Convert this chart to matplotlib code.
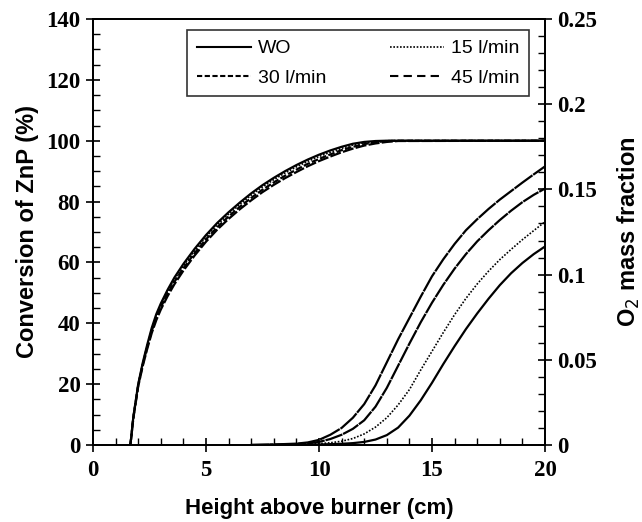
import numpy as np
import matplotlib
matplotlib.use("Agg")
import matplotlib.pyplot as plt
from matplotlib.lines import Line2D
from matplotlib.font_manager import FontProperties

# Conversion of ZnP along the flame (left axis)
h_conv = [1.65, 1.7, 1.75, 1.8, 1.9, 2.0, 2.2, 2.4, 2.6, 2.8, 3.0, 3.3, 3.6, 4.0, 4.5,
          5.0, 5.5, 6.0, 6.5, 7.0, 7.5, 8.0, 8.5, 9.0, 9.5, 10, 10.5, 11, 11.5, 12,
          12.5, 13, 13.5, 20]
conv_wo = [0, 3, 7, 10, 15, 20, 27, 33, 38.5, 43, 46.5, 51, 55, 59.5, 64.5, 69, 73, 76.5,
           79.7, 82.7, 85.4, 87.8, 90, 92, 93.8, 95.4, 96.8, 98, 99, 99.6, 99.9, 100, 100, 100]
conv_15 = [0, 3, 7, 10, 15, 20, 26.8, 32.7, 38.1, 42.5, 46, 50.4, 54.4, 58.9, 63.9, 68.4,
           72.4, 75.9, 79.1, 82.1, 84.8, 87.2, 89.4, 91.4, 93.2, 94.8, 96.2, 97.5, 98.6,
           99.3, 99.7, 100, 100, 100]
conv_30 = [0, 3, 6.8, 9.8, 14.7, 19.6, 26.4, 32.2, 37.5, 41.8, 45.3, 49.7, 53.6, 58.1, 63.1,
           67.6, 71.6, 75.1, 78.3, 81.2, 83.9, 86.3, 88.5, 90.5, 92.4, 94, 95.5, 96.9, 98,
           98.9, 99.5, 99.9, 100, 100]
conv_45 = [0, 2.8, 6.5, 9.5, 14.3, 19.2, 25.9, 31.6, 36.8, 41, 44.5, 48.9, 52.8, 57.3, 62.3,
           66.8, 70.8, 74.3, 77.5, 80.4, 83.1, 85.5, 87.7, 89.7, 91.6, 93.3, 94.8, 96.2, 97.4,
           98.4, 99.1, 99.6, 99.9, 100]

# O2 mass fraction (right axis)
h_o2 = [7, 8, 9, 9.5, 10, 10.5, 11, 11.5, 12, 12.5, 13, 13.5, 14, 14.5, 15, 15.5,
        16, 16.5, 17, 17.5, 18, 18.5, 19, 19.5, 20]
o2_wo = [0, 0, 0.0001, 0.0002, 0.0003, 0.0005, 0.0007, 0.0011, 0.0018, 0.0032, 0.0058,
         0.0102, 0.0172, 0.0262, 0.0365, 0.0475, 0.058, 0.068, 0.0772, 0.0858, 0.0938,
         0.1008, 0.1068, 0.112, 0.1165]
o2_15 = [0, 0.0001, 0.0003, 0.0005, 0.0008, 0.0013, 0.0022, 0.0038, 0.0065, 0.0105, 0.016,
         0.0235, 0.0325, 0.044, 0.055, 0.066, 0.0765, 0.086, 0.0945, 0.102, 0.1088,
         0.1148, 0.1205, 0.1258, 0.131]
o2_30 = [0, 0.0002, 0.0005, 0.001, 0.0018, 0.0035, 0.006, 0.0095, 0.0145, 0.0225, 0.0335,
         0.0465, 0.0595, 0.072, 0.0835, 0.094, 0.1035, 0.112, 0.1195, 0.126, 0.132, 0.1375,
         0.1425, 0.1468, 0.1505]
o2_45 = [0, 0.0003, 0.0008, 0.0015, 0.003, 0.006, 0.010, 0.016, 0.024, 0.035, 0.0485, 0.062,
         0.0745, 0.087, 0.099, 0.109, 0.118, 0.126, 0.1325, 0.1385, 0.144, 0.149, 0.154,
         0.1588, 0.1635]

labels = ["WO", "15 l/min", "30 l/min", "45 l/min"]

tick_fp = FontProperties(family="Liberation Serif", weight="bold", size=16.5)
lab_font = {"family": "Liberation Sans", "weight": "bold", "size": 16}
vlab_font = {"family": "Liberation Sans", "weight": "bold", "size": 17}

fig = plt.figure(figsize=(6.42, 5.22), dpi=100)
ax = fig.add_axes([93 / 642, 77 / 522, 452 / 642, 426 / 522])
ax2 = ax.twinx()

lw = 1.6
ax.plot(h_conv, conv_wo, color="black", lw=lw, ls="-")
ax.plot(h_conv, conv_15, color="black", lw=1.2, ls=(0, (1, 1)))
ax.plot(h_conv, conv_30, color="black", lw=lw, ls=(0, (3, 1)))
ax.plot(h_conv, conv_45, color="black", lw=lw, ls=(0, (5, 1)))

ax2.plot(h_o2, o2_wo, color="black", lw=lw, ls="-")
ax2.plot(h_o2, o2_15, color="black", lw=1.2, ls=(0, (1, 1)))
ax2.plot(h_o2, o2_30, color="black", lw=lw, ls=(0, (8, 0.4)))
ax2.plot(h_o2, o2_45, color="black", lw=lw, ls=(0, (10, 0.4)))

ax.set_xlim(0, 20)
ax.set_ylim(0, 140)
ax2.set_ylim(0, 0.25)

ax.set_xticks([0, 5, 10, 15, 20])
ax.set_xticks(np.arange(0, 21, 1), minor=True)
ax.set_yticks(np.arange(0, 141, 20))
ax.set_yticks(np.arange(0, 141, 5), minor=True)
ax2.set_yticks([0, 0.05, 0.1, 0.15, 0.2, 0.25])
ax2.set_yticklabels(["0", "0.05", "0.1", "0.15", "0.2", "0.25"])
ax2.set_yticks(np.arange(0, 0.251, 0.01), minor=True)

for a in (ax, ax2):
    a.tick_params(which="major", direction="inout", length=10, width=1.2, pad=4)
    a.tick_params(which="minor", direction="in", length=5, width=1.0)
    for s in a.spines.values():
        s.set_linewidth(1.3)
    for t in a.get_xticklabels() + a.get_yticklabels():
        t.set_fontproperties(tick_fp)
ax.tick_params(axis="x", pad=6)

ax.set_xlabel("Height above burner (cm)", fontdict=lab_font, labelpad=12)
ax.set_ylabel("Conversion of ZnP (%)", fontdict=vlab_font, labelpad=5)
ax2.set_ylabel("O$_2$ mass fraction", fontdict=vlab_font, labelpad=13)

h_wo = Line2D([], [], color="black", lw=1.5, ls="-")
h_15 = Line2D([], [], color="black", lw=1.2, ls=(0, (1, 1)))
h_30 = Line2D([], [], color="black", lw=1.5, ls=(0, (2.5, 1.2)))
h_45 = Line2D([], [], color="black", lw=1.5, ls=(0, (4, 2.5)))
leg = ax.legend([h_wo, h_30, h_15, h_45],
                [labels[0], labels[2], labels[1], labels[3]],
                ncol=2, loc="upper left", mode="expand",
                bbox_to_anchor=(0.208, 0.974, 0.757, 0.0),
                frameon=True, fancybox=False, edgecolor="black",
                prop={"family": "Liberation Sans", "size": 14},
                handlelength=2.8, borderpad=0.5, borderaxespad=0,
                labelspacing=0.6, handletextpad=0.35)
leg.get_frame().set_linewidth(1.2)

fig.savefig("out.png", dpi=100)
